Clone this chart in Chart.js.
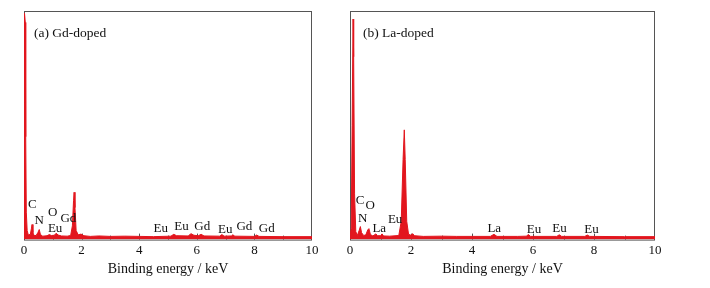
<!DOCTYPE html>
<html lang="en">
<head>
    <meta charset="UTF-8">
    <title>EDS spectra</title>
    <script src="https://cdn.jsdelivr.net/npm/chart.js"></script>
    <style>
        body { margin: 0; background: #fff; }
        .panel { position: absolute; top: 0; }
    </style>
</head>
<body>
    <div class="panel" style="left:0px"><canvas id="chartA" width="340" height="288"></canvas></div>
    <div class="panel" style="left:340px"><canvas id="chartB" width="370" height="288"></canvas></div>
    <script>
        // (a) Gd-doped spectrum, energy in keV / relative counts
        const energyA = [0, 0.01, 0.025, 0.045, 0.06, 0.08, 0.11, 0.15, 0.22, 0.26, 0.28, 0.31, 0.35, 0.42, 0.48, 0.53, 0.57, 0.65, 0.8, 0.88, 0.95, 1.05, 1.12, 1.18, 1.3, 1.5, 1.62, 1.68, 1.72, 1.74, 1.77, 1.81, 1.88, 1.98, 2.08, 2.3, 2.6, 3.0, 3.5, 4.0, 4.5, 5.1, 5.2, 5.3, 5.7, 5.8, 5.9, 6.05, 6.15, 6.25, 6.8, 6.87, 6.95, 7.2, 7.25, 7.32, 8.0, 8.08, 8.16, 9.0, 10];
        const countsA = [60, 97, 99, 95, 45, 12, 4, 2, 2.3, 5, 6.6, 3, 1.8, 1.8, 3, 4.4, 2.2, 1.5, 1.7, 2.2, 1.8, 1.9, 2.8, 2, 1.6, 1.5, 1.8, 6, 17, 20.7, 14, 4, 2.1, 2.4, 1.7, 1.4, 1.6, 1.4, 1.5, 1.4, 1.3, 1.5, 2.3, 1.7, 1.6, 2.6, 1.9, 1.7, 2.3, 1.6, 1.5, 2.2, 1.5, 1.6, 2.1, 1.5, 1.4, 2.0, 1.4, 1.3, 1.3];
        const peakNamesA = ['C', 'N', 'O', 'Eu', 'Gd', 'Eu', 'Eu', 'Gd', 'Eu', 'Gd', 'Gd'];
        const peakXA = [0.29, 0.53, 1.0, 1.08, 1.54, 4.75, 5.47, 6.19, 6.99, 7.65, 8.43];
        const peakYA = [15.4, 8.3, 12, 4.8, 9.2, 4.8, 5.7, 5.7, 4.4, 5.7, 4.8];

        // (b) La-doped spectrum
        const energyB = [0, 0.04, 0.07, 0.1, 0.12, 0.15, 0.19, 0.24, 0.3, 0.34, 0.38, 0.45, 0.52, 0.58, 0.62, 0.67, 0.75, 0.85, 0.9, 1.0, 1.05, 1.1, 1.3, 1.6, 1.68, 1.74, 1.78, 1.81, 1.86, 1.92, 2.0, 2.05, 2.12, 2.4, 3.0, 3.5, 4.0, 4.6, 4.72, 4.82, 5.5, 5.78, 5.85, 5.92, 6.78, 6.86, 6.94, 7.7, 7.78, 7.86, 9.0, 10];
        const countsB = [1.5, 5, 50, 96.5, 80, 20, 3.5, 1.8, 4, 5.7, 3, 1.8, 2.1, 4.2, 4.8, 2.2, 1.6, 2.5, 1.7, 1.7, 2.5, 1.6, 1.5, 1.8, 8, 35, 48, 35, 8, 2.3, 1.9, 2.6, 1.7, 1.4, 1.5, 1.4, 1.4, 1.4, 2.3, 1.4, 1.4, 1.5, 2.2, 1.4, 1.4, 2.1, 1.4, 1.4, 2.0, 1.4, 1.3, 1.3];
        const peakNamesB = ['C', 'O', 'N', 'La', 'Eu', 'La', 'Eu', 'Eu', 'Eu'];
        const peakXB = [0.33, 0.66, 0.42, 0.96, 1.48, 4.73, 6.03, 6.87, 7.92];
        const peakYB = [17.1, 14.9, 9.1, 4.7, 8.8, 5.0, 4.5, 5.0, 4.5];

        const xTicks = [0, 2, 4, 6, 8, 10];
        const serif = '"Liberation Serif", "Times New Roman", serif';
        const red = 'rgb(226, 22, 30)';

        // frame + inward ticks under the spectrum, labels on top
        const edsPlugin = {
            id: 'eds',
            beforeDatasetsDraw(chart) {
                const { ctx, chartArea: a, scales } = chart;
                ctx.save();
                ctx.strokeStyle = '#555';
                ctx.lineWidth = 1;
                ctx.strokeRect(a.left + 0.5, a.top + 0.5, a.right - a.left - 1, a.bottom - a.top);
                for (let v = 1; v < 10; v++) {
                    const px = Math.round(scales.x.getPixelForValue(v)) + 0.5;
                    ctx.beginPath();
                    ctx.moveTo(px, a.bottom);
                    ctx.lineTo(px, a.bottom - (v % 2 === 0 ? 6 : 4));
                    ctx.stroke();
                }
                ctx.restore();
            },
            afterDatasetsDraw(chart, args, opts) {
                const { ctx, chartArea: a, scales } = chart;
                ctx.save();
                ctx.fillStyle = '#111';
                ctx.font = '13px ' + serif;
                ctx.textAlign = 'center';
                ctx.textBaseline = 'middle';
                opts.names.forEach((n, i) => {
                    ctx.fillText(n, scales.x.getPixelForValue(opts.xs[i]), scales.y.getPixelForValue(opts.ys[i]));
                });
                ctx.font = '13.5px ' + serif;
                ctx.textAlign = 'left';
                ctx.fillText(opts.title, a.left + opts.titleDx, a.top + 22);
                ctx.restore();
            }
        };

        function makeChart(id, energy, counts, names, xs, ys, title, pad, titleDx) {
            return new Chart(document.getElementById(id), {
                type: 'line',
                data: {
                    datasets: [{
                        data: energy.map((e, i) => ({ x: e, y: counts[i] })),
                        borderColor: red,
                        backgroundColor: red,
                        borderWidth: 1,
                        pointRadius: 0,
                        tension: 0,
                        fill: 'origin'
                    }]
                },
                options: {
                    responsive: false,
                    animation: false,
                    layout: { padding: pad },
                    plugins: {
                        legend: { display: false },
                        tooltip: { enabled: false },
                        eds: { names: names, xs: xs, ys: ys, title: title, titleDx: titleDx }
                    },
                    scales: {
                        x: {
                            type: 'linear',
                            min: 0,
                            max: 10,
                            grid: { display: false, drawTicks: false },
                            border: { display: false },
                            afterBuildTicks: s => { s.ticks = xTicks.map(v => ({ value: v })); },
                            ticks: { color: '#111', padding: 3, maxRotation: 0, font: { family: serif, size: 13 } },
                            title: {
                                display: true,
                                text: 'Binding energy / keV',
                                color: '#111',
                                padding: { top: 0, bottom: 4 },
                                font: { family: serif, size: 14 }
                            }
                        },
                        y: { display: false, min: 0, max: 100 }
                    }
                },
                plugins: [edsPlugin]
            });
        }

        makeChart('chartA', energyA, countsA, peakNamesA, peakXA, peakYA, '(a) Gd-doped',
            { left: 24, right: 28, top: 11, bottom: 6 }, 10);
        makeChart('chartB', energyB, countsB, peakNamesB, peakXB, peakYB, '(b) La-doped',
            { left: 10, right: 55, top: 11, bottom: 6 }, 13);
    </script>
</body>
</html>
